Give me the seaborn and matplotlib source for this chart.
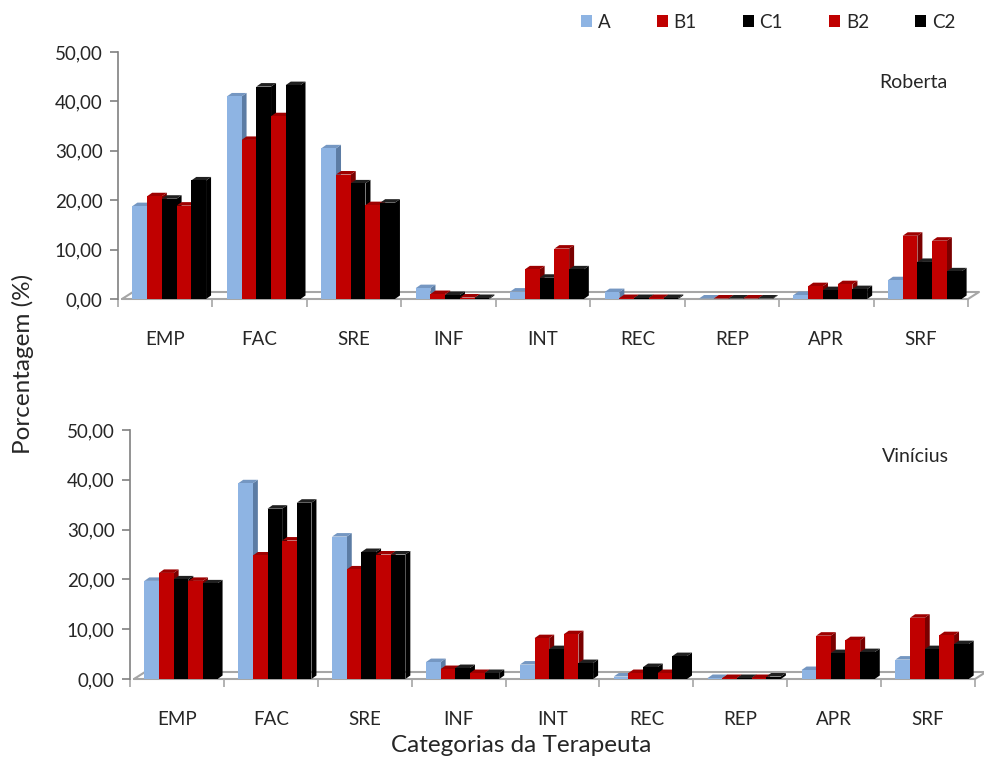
import numpy as np
import pandas as pd
import matplotlib
matplotlib.use("Agg")
import matplotlib.pyplot as plt
import seaborn as sns
from matplotlib.patches import Polygon, Patch
from matplotlib.ticker import FuncFormatter, FixedLocator

# ---- data -------------------------------------------------------------
categorias = ["EMP", "FAC", "SRE", "INF", "INT", "REC", "REP", "APR", "SRF"]
series = ["A", "B1", "C1", "B2", "C2"]

roberta_A = [18.8, 41.0, 30.5, 2.2, 1.5, 1.4, 0.1, 0.8, 3.8]
roberta_B1 = [20.8, 32.2, 25.2, 1.0, 6.0, 0.2, 0.1, 2.6, 12.8]
roberta_C1 = [20.3, 43.0, 23.4, 0.8, 4.3, 0.2, 0.1, 1.8, 7.5]
roberta_B2 = [18.9, 37.0, 19.0, 0.3, 10.2, 0.2, 0.1, 3.0, 11.8]
roberta_C2 = [24.0, 43.3, 19.5, 0.2, 6.0, 0.2, 0.1, 2.0, 5.6]

vinicius_A = [19.7, 39.3, 28.6, 3.4, 2.9, 0.5, 0.2, 1.8, 3.9]
vinicius_B1 = [21.3, 24.8, 22.0, 2.0, 8.2, 1.2, 0.2, 8.7, 12.3]
vinicius_C1 = [20.0, 34.2, 25.5, 2.2, 6.0, 2.4, 0.2, 5.2, 6.0]
vinicius_B2 = [19.7, 27.8, 25.0, 1.2, 9.0, 1.2, 0.2, 7.8, 8.8]
vinicius_C2 = [19.2, 35.4, 25.0, 1.2, 3.2, 4.6, 0.5, 5.4, 7.0]

y_ticks = [0, 10, 20, 30, 40, 50]

paineis = {
    "Roberta": [roberta_A, roberta_B1, roberta_C1, roberta_B2, roberta_C2],
    "Vinícius": [vinicius_A, vinicius_B1, vinicius_C1, vinicius_B2, vinicius_C2],
}

# ---- styling ----------------------------------------------------------
sns.set_style("white")
plt.rcParams["font.family"] = ["Lato", "DejaVu Sans"]

BLUE, RED, BLACK = "#8EB4E3", "#C00000", "#000000"
front = {"A": BLUE, "B1": RED, "C1": BLACK, "B2": RED, "C2": BLACK}
side = {"A": "#5C7CA4", "B1": "#7A0000", "C1": "#000000", "B2": "#7A0000", "C2": "#000000"}
top = {"A": "#7597C2", "B1": "#9E0000", "C1": "#202020", "B2": "#9E0000", "C2": "#202020"}
GRAY = "#A6A6A6"

W, H = 984, 769
fig = plt.figure(figsize=(W / 100, H / 100), dpi=100)

# axes rectangles in pixels: left, top, right, bottom
rects = {
    "Roberta": (118, 52, 968, 299),
    "Vinícius": (130, 430, 975, 679),
}
name_pos = {"Roberta": (913, 83), "Vinícius": (915, 456)}

fmt = FuncFormatter(lambda v, p: f"{v:.2f}".replace(".", ","))

for nome, valores in paineis.items():
    l, t, r, b = rects[nome]
    ax = fig.add_axes([l / W, 1 - b / H, (r - l) / W, (b - t) / H])

    df = pd.DataFrame({
        "categoria": np.tile(categorias, len(series)),
        "serie": np.repeat(series, len(categorias)),
        "valor": np.concatenate(valores),
    })
    sns.barplot(data=df, x="categoria", y="valor", hue="serie",
                hue_order=series, order=categorias, palette=front,
                width=0.78, saturation=1, legend=False, ax=ax,
                linewidth=0, zorder=3)

    ax.set_xlim(-0.5, len(categorias) - 0.5)
    ax.set_ylim(0, 50)

    # pixel -> data conversion for the 3D depth faces
    px_x = (len(categorias)) / (r - l)
    px_y = 50 / (b - t)
    dx, dy = 5 * px_x, 3.5 * px_y
    shift = 4 * px_x  # bars sit slightly back/right on the floor

    # side and top faces behind the front faces
    n = len(categorias)
    for i, bar in enumerate(ax.patches):
        s = series[i // n]
        bar.set_x(bar.get_x() + shift)
        x0, w, h = bar.get_x(), bar.get_width(), bar.get_height()
        x1 = x0 + w
        ax.add_patch(Polygon([(x1, 0), (x1 + dx, dy), (x1 + dx, h + dy), (x1, h)],
                             closed=True, facecolor=side[s], edgecolor="none",
                             zorder=2, clip_on=False))
        ax.add_patch(Polygon([(x0, h), (x0 + dx, h + dy), (x1 + dx, h + dy), (x1, h)],
                             closed=True, facecolor=top[s], edgecolor="none",
                             zorder=2, clip_on=False))

    # floor outline
    fx0, fx1 = -0.5, len(categorias) - 0.5
    fdx, fdy = 11 * px_x, 7 * px_y
    fx0f = fx0 + 4 * px_x
    ax.plot([fx0f, fx1, fx1 + fdx, fx0f + fdx, fx0f], [0, 0, fdy, fdy, 0],
            color=GRAY, lw=1.5, clip_on=False, zorder=1.5)

    # axes decoration
    sns.despine(ax=ax, top=True, right=True, bottom=True, left=False)
    ax.spines["left"].set_color("#808080")
    ax.spines["left"].set_linewidth(1.2)
    ax.set_yticks(y_ticks)
    ax.yaxis.set_major_formatter(fmt)
    ax.tick_params(axis="y", direction="out", length=6, width=1.2,
                   color="#808080", labelsize=13.5, pad=5, left=True)
    ax.set_xticks(range(len(categorias)))
    ax.set_xticklabels(categorias)
    ax.xaxis.set_minor_locator(FixedLocator(np.arange(-0.5, len(categorias), 1.0)))
    ax.tick_params(axis="x", which="major", length=0, labelsize=13.5, pad=23)
    ax.tick_params(axis="x", which="minor", direction="out", length=6,
                   width=1.2, color=GRAY, bottom=True)
    ax.set_xlabel("")
    ax.set_ylabel("")
    ax.grid(False)

    nx, ny = name_pos[nome]
    fig.text(nx / W, 1 - ny / H, nome, ha="center", va="center", fontsize=14)

fig.text(23 / W, 1 - 364 / H, "Porcentagem (%)", rotation=90,
         ha="center", va="center", fontsize=17.5)
fig.text(521 / W, 1 - 746 / H, "Categorias da Terapeuta",
         ha="center", va="center", fontsize=17.5)

handles = [Patch(facecolor=front[s], edgecolor="none", label=s) for s in series]
fig.legend(handles=handles, loc="center", ncol=5,
           bbox_to_anchor=(768 / W, 1 - 22 / H), frameon=False,
           handlelength=0.6, handleheight=0.6, handletextpad=0.3,
           columnspacing=2.45, fontsize=13.5)

fig.savefig("out.png", dpi=100)
